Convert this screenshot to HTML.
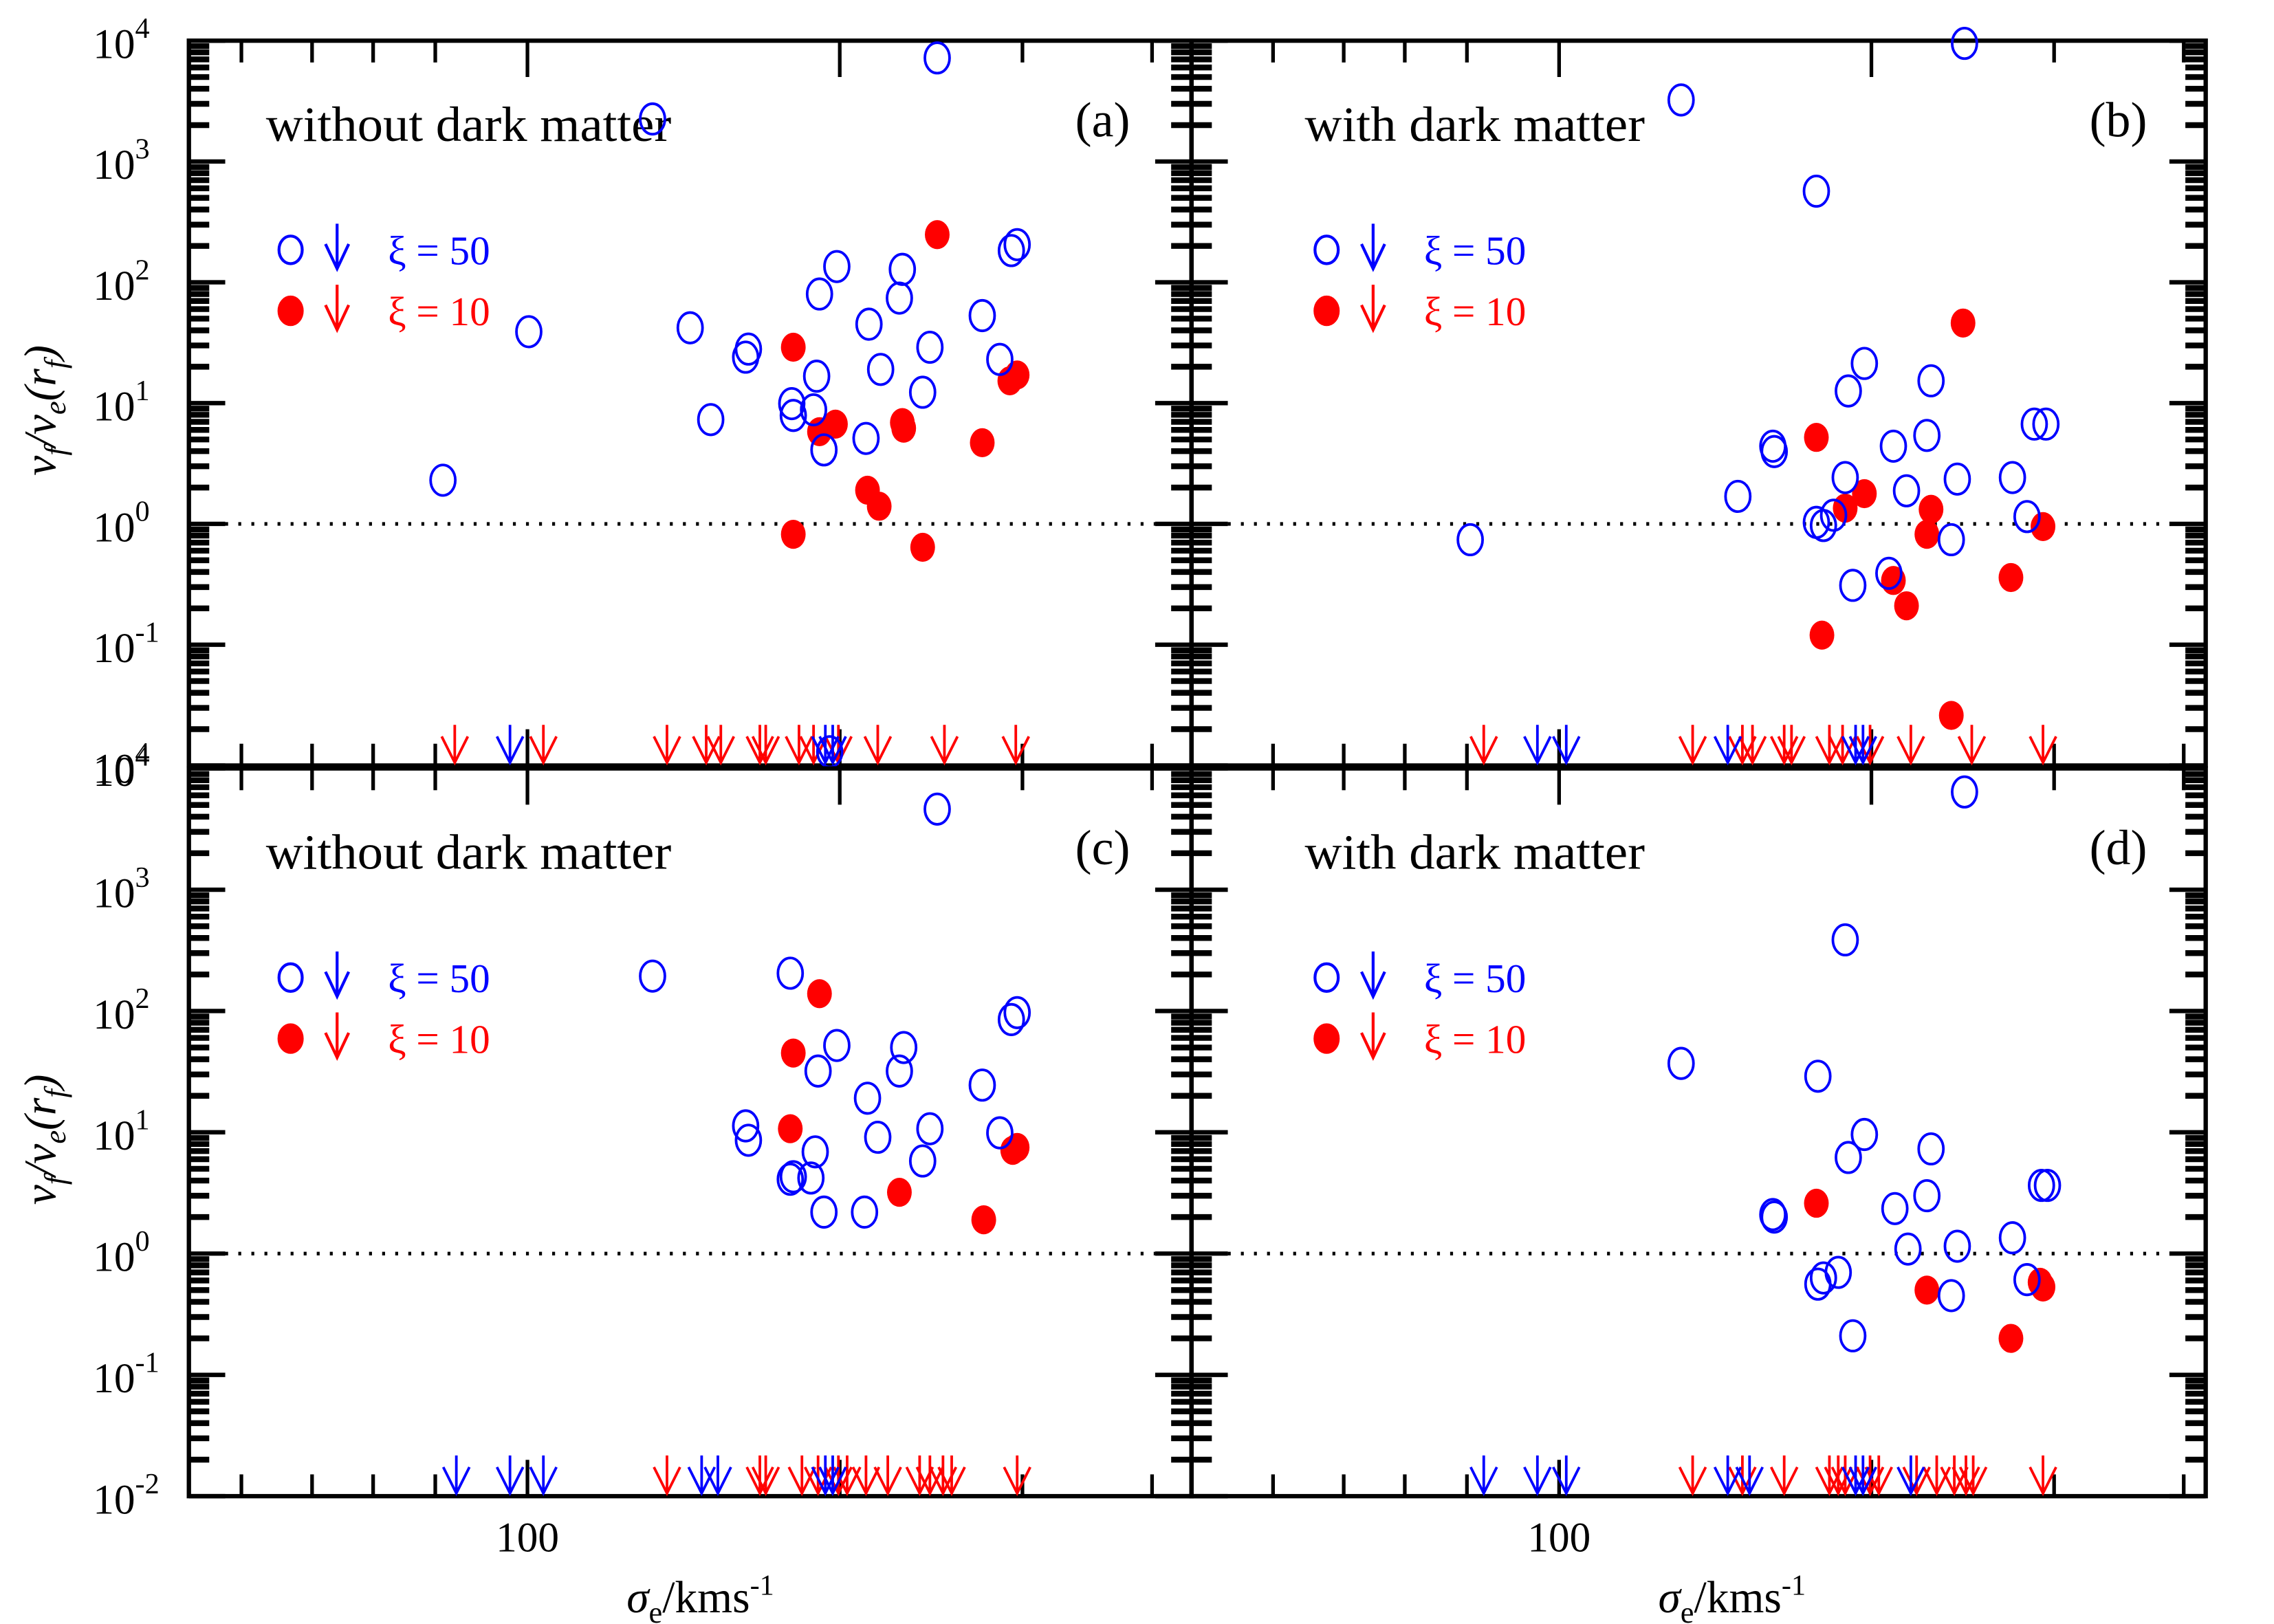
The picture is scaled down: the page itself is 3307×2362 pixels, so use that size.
<!DOCTYPE html>
<html><head><meta charset="utf-8"><style>
html,body{margin:0;padding:0;background:#fff;}
svg{display:block;}
text{font-family:"Liberation Serif",serif;}
</style></head>
<body>
<svg id="chart" width="3307" height="2362" viewBox="0 0 1565 1118" preserveAspectRatio="none" xmlns="http://www.w3.org/2000/svg">
<g id="root"></g>
</svg>
<script>
// ---- data (sigma in km/s, v ratio) ----
const aBlueS=[82.9,100.3,132,143.5,150.2,162.3,163.3,179.8,180.4,188.7,190,191.2,193.1,198.7,212,213.4,219,229.8,228.3,240.4,244.3,248.3,274.4,285.3,292.7,296.5,195.6];
const aBlueV=[2.3,39,2250,42,7.3,24,28,9.9,7.9,8.8,16.7,80,4.1,135,5.1,45,19,128,74,12.3,29,7200,53,23,183,205,0.013];
const aRedS=[180.4,180.4,191.2,198.1,212.7,218.3,229.8,230.5,240.4,248.3,274.4,291.7,296.5];
const aRedV=[29,0.82,5.8,6.7,1.9,1.4,6.9,6.2,0.64,248,4.7,15.3,17.1];
const aArrRed=[85.1,103.6,136.3,148.7,153.6,167.5,169.7,182.7,188.7,199.4,217.6,252.3,295.6];
const aArrBlue=[96.2,193.7,196.9];

const bBlueS=[82.1,131.1,148.7,160.7,161.2,177,177,179.8,183.9,188.7,190,191.9,196.9,210,216.2,207.9,226.2,228.3,238.8,242,245.9,273.5,282.5,287.1,294.6];
const bBlueV=[0.74,3230,1.69,4.4,3.97,568,1.03,0.97,1.18,2.42,12.6,0.31,21.3,4.4,1.88,0.39,5.4,15.3,0.74,2.35,9500,2.42,1.15,6.7,6.7];
const bRedS=[177,179.2,188.7,196.9,210,216.2,226.2,228.3,238.8,245.1,272.6,292.7];
const bRedV=[5.2,0.12,1.35,1.78,0.34,0.21,0.82,1.32,0.026,46,0.36,0.95];
const bArrRed=[84.6,134.5,150.2,153.6,164.8,167.5,182.2,187.6,199.4,218.3,249.9,292.7];
const bArrBlue=[95.3,101.6,145.4,193.1,196.3];

const cBlueS=[132,179.2,162.3,163.3,179.2,180.4,187.6,189.4,190.6,193.1,198.7,211.3,212.7,217.6,228.3,230.5,240.4,244.3,248.3,274.4,285.3,292.7,296.5];
const cBlueV=[194,205,11.3,8.6,4.1,4.3,4.2,6.9,32,2.2,52,2.2,19.1,9.1,32,50,5.8,10.7,4620,24.5,9.9,85,97];
const cRedS=[179.2,180.4,191.2,228.3,275.3,293.6,296.5];
const cRedV=[10.7,45,139,3.2,1.9,7.1,7.5];
const cArrRed=[136.3,167.5,169.7,183.9,190.6,199.4,203.3,212,222.5,238.8,244.3,251.5,256.4,296.5];
const cArrBlue=[85.4,96.2,103.6,147.2,152.6,193.7,196.9];

const dBlueS=[131.1,177.6,188.7,196.9,190,228.3,160.7,161.2,210.7,226.2,216.9,242,273.5,177.6,179.8,185.8,238.8,191.9,282.5,291.7,295.6,245.9];
const dBlueV=[37,29,386,9.6,6.2,7.3,2.1,2.0,2.35,3.0,1.09,1.15,1.35,0.56,0.63,0.70,0.45,0.21,0.61,3.65,3.65,6400];
const dRedS=[177,226.2,272.6,292.7,290.8];
const dRedV=[2.6,0.50,0.20,0.53,0.58];
const dArrRed=[134.5,150.2,164.8,182.2,185.8,188.7,199.4,203.3,221.1,231.2,240.4,246.7,250.7,292.7];
const dArrBlue=[84.6,95.3,101.6,145.4,152.6,193.1,196.3,218.3];

const yTickExp=[4,3,2,1,0,-1,-2];
const upperLabelExp=["4","3","2","1","0","-1","4"];
const lowerLabelExp=["4","3","2","1","0","-1","-2"];
const xMinorTicks=[53,62,71,81.5,300,400];
const xMajorTicks=[100,200];

// ---- layout ----
const NS="http://www.w3.org/2000/svg";
const root=document.getElementById('root');
const X0=130,XM=820,X1=1518;
const panels=[
 {id:'a',off:0,top:28,bot:527,title:'without dark matter',bs:aBlueS,bv:aBlueV,rs:aRedS,rv:aRedV,ar:aArrRed,ab:aArrBlue,left:X0,right:XM,tdx:53,ldx:70},
 {id:'b',off:710,top:28,bot:527,title:'with dark matter',bs:bBlueS,bv:bBlueV,rs:bRedS,rv:bRedV,ar:bArrRed,ab:bArrBlue,left:XM,right:X1,tdx:78,ldx:93},
 {id:'c',off:0,top:529,bot:1030,title:'without dark matter',bs:cBlueS,bv:cBlueV,rs:cRedS,rv:cRedV,ar:cArrRed,ab:cArrBlue,left:X0,right:XM,tdx:53,ldx:70},
 {id:'d',off:710,top:529,bot:1030,title:'with dark matter',bs:dBlueS,bv:dBlueV,rs:dRedS,rv:dRedV,ar:dArrRed,ab:dArrBlue,left:XM,right:X1,tdx:78,ldx:93}
];
function el(tag,attrs,parent){const e=document.createElementNS(NS,tag);for(const k in attrs)e.setAttribute(k,attrs[k]);(parent||root).appendChild(e);return e;}
function xs(s,p){return p.off+363+714*Math.log10(s/100);}
function ys(v,p){return p.top+(4-Math.log10(v))*(p.bot-p.top)/6;}

panels.forEach(p=>{
  const g=el('g',{});
  
  
  const fr=el('rect',{x:p.left,y:p.top,width:p.right-p.left,height:p.bot-p.top,fill:'none',stroke:'#000','stroke-width':3},g);
  
  
  for(let e=-2;e<=4;e++){
    for(let m=1;m<=9;m++){
      if(e===4&&m>1)break;
      const y=ys(m*Math.pow(10,e),p);
      const len=m===1?25:14;
      const sw=m===1?3:4;
      const t1=el('line',{x1:p.left,x2:p.left+len,y1:y,y2:y,stroke:'#000','stroke-width':sw},g);
      
      
      const t2=el('line',{x1:p.right,x2:p.right-len,y1:y,y2:y,stroke:'#000','stroke-width':sw},g);
      
      
    }
  }
  xMinorTicks.concat(xMajorTicks).forEach(s=>{
    const x=xs(s,p);
    if(x<=p.left+3||x>=p.right-3)return;
    const len=xMajorTicks.includes(s)?25:15;
    const a=el('line',{x1:x,x2:x,y1:p.top,y2:p.top+len,stroke:'#000','stroke-width':2.5},g);
    
    
    const b=el('line',{x1:x,x2:x,y1:p.bot,y2:p.bot-len,stroke:'#000','stroke-width':2.5},g);
    
    
  });
  const dl=el('line',{x1:p.left+25,x2:p.right-25,y1:ys(1,p),y2:ys(1,p),stroke:'#000','stroke-width':2.5,'stroke-dasharray':'2 7'},g);
  
  
  const tt=el('text',{x:p.left+p.tdx,y:p.top+69,'font-size':34,fill:'#000',textLength:p.title.length>17?279:234,lengthAdjust:'spacingAndGlyphs'},g);
  tt.textContent=p.title;
  
  
  const lb=el('text',{x:p.right-80,y:p.top+66,'font-size':34,fill:'#000'},g);
  lb.textContent='('+p.id+')';
  
  
  const lx=p.left+p.ldx;
  [[0,'#0000ff',false,'50'],[1,'#ff0000',true,'10']].forEach(([i,col,fill,val])=>{
    const ly=p.top+144+i*42;
    const lm=el('ellipse',{cx:lx,cy:ly,rx:8,ry:9.5,fill:fill?col:'none',stroke:col,'stroke-width':2},g);
    
    
    const ax=lx+32;
    const ar=el('path',{d:`M${ax},${ly-18} L${ax},${ly+13} M${ax-8},${ly-4} L${ax},${ly+13} L${ax+8},${ly-4}`,fill:'none',stroke:col,'stroke-width':2},g);
    
    
    const lt=el('text',{x:lx+67,y:ly+10,'font-size':28,fill:col},g);
    lt.textContent='ξ = '+val;
    
    
  });
  function arrows(arr,col){
    arr.forEach(s=>{
      const x=xs(s,p);
      const a=el('path',{d:`M${x},${p.bot-28} L${x},${p.bot-2} M${x-9},${p.bot-20} L${x},${p.bot-2} L${x+9},${p.bot-20}`,fill:'none',stroke:col,'stroke-width':1.8},g);
      
      
    });
  }
  arrows(p.ar,'#ff0000');
  arrows(p.ab,'#0000ff');
  p.rs.forEach((s,i)=>{
    const c=el('ellipse',{cx:xs(s,p),cy:ys(p.rv[i],p),rx:8.5,ry:10,fill:'#ff0000'},g);
    
    
  });
  p.bs.forEach((s,i)=>{
    const c=el('ellipse',{cx:xs(s,p),cy:ys(p.bv[i],p),rx:8.5,ry:10.5,fill:'none',stroke:'#0000ff','stroke-width':1.8},g);
    
    
  });
  if(p.left===X0){
    const labs=p.top<100?upperLabelExp:lowerLabelExp;
    yTickExp.forEach((e,i)=>{
      const y=ys(Math.pow(10,e),p);
      const t=el('text',{x:64,y:y+12,'font-size':29,fill:'#000'},g);
      t.textContent='10';
      
      
      const sup=el('tspan',{dy:-14,'font-size':20},t);
      sup.textContent=labs[i];
    });
    const yt=el('text',{transform:`translate(38,${(p.top+p.bot)/2+5}) rotate(-90)`,'text-anchor':'middle','font-size':31,fill:'#000','font-style':'italic'},g);
    yt.innerHTML='v<tspan font-size="21" dy="7">f</tspan><tspan dy="-7">/v</tspan><tspan font-size="21" dy="7">e</tspan><tspan dy="-7">(r</tspan><tspan font-size="21" dy="7">f</tspan><tspan dy="-7">)</tspan>';
    
    
  }
  if(p.top>100){
    const xl=el('text',{x:xs(100,p),y:1068,'text-anchor':'middle','font-size':29,fill:'#000'},g);
    xl.textContent='100';
    
    
    const xt=el('text',{x:p.off+482,y:1110,'text-anchor':'middle','font-size':31,fill:'#000'},g);
    xt.innerHTML='<tspan font-style="italic">σ</tspan><tspan font-size="21" dy="7">e</tspan><tspan dy="-7">/kms</tspan><tspan font-size="20" dy="-12">-1</tspan>';
    
    
  }
});
</script>
</body></html>
